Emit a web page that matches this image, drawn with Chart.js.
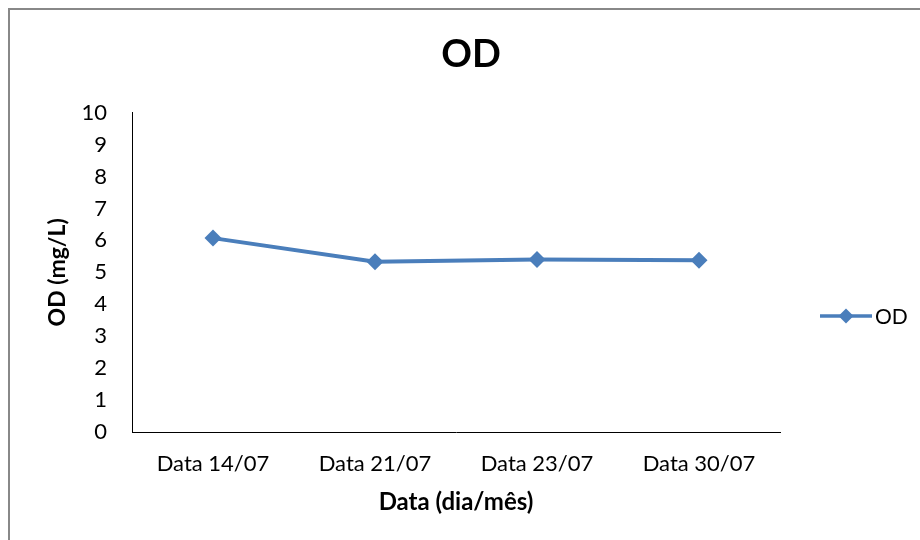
<!DOCTYPE html>
<html>
<head>
<meta charset="utf-8">
<title>OD</title>
<script src="https://cdn.jsdelivr.net/npm/chart.js@4/dist/chart.umd.min.js"></script>
<style>
    html, body { margin: 0; padding: 0; background: #fff; }
    canvas { display: block; }
</style>
</head>
<body>
<canvas id="odChart" width="920" height="540"></canvas>
<script>
// Chart data
const dates = ['Data 14/07', 'Data 21/07', 'Data 23/07', 'Data 30/07'];
const odValues = [6.07, 5.33, 5.40, 5.38];
const yTicks = [0, 1, 2, 3, 4, 5, 6, 7, 8, 9, 10];

const lineColor = '#4A7EBB';
const fontFamily = 'Lato, "Open Sans", sans-serif';

// Gray frame on the left and top edges, like the pasted Excel chart
const framePlugin = {
    id: 'frame',
    beforeDraw(chart) {
        const ctx = chart.ctx;
        ctx.save();
        ctx.strokeStyle = '#888888';
        ctx.lineWidth = 2;
        ctx.beginPath();
        ctx.moveTo(9, chart.height);
        ctx.lineTo(9, 9);
        ctx.lineTo(chart.width, 9);
        ctx.stroke();
        ctx.restore();
    }
};

// Legend on the right: line with a diamond marker, then the label
const sideLegend = {
    id: 'sideLegend',
    afterDraw(chart) {
        const ctx = chart.ctx;
        const area = chart.chartArea;
        const ds = chart.data.datasets[0];
        const x = area.right + 40;
        const y = area.top + (area.bottom - area.top) * 0.637;
        ctx.save();
        ctx.strokeStyle = ds.borderColor;
        ctx.fillStyle = ds.borderColor;
        ctx.lineWidth = 3.5;
        ctx.beginPath();
        ctx.moveTo(x, y);
        ctx.lineTo(x + 52, y);
        ctx.stroke();
        ctx.beginPath();
        ctx.moveTo(x + 26, y - 7.5);
        ctx.lineTo(x + 33.5, y);
        ctx.lineTo(x + 26, y + 7.5);
        ctx.lineTo(x + 18.5, y);
        ctx.closePath();
        ctx.fill();
        ctx.fillStyle = '#000';
        ctx.font = '21px ' + fontFamily;
        ctx.textBaseline = 'middle';
        ctx.textAlign = 'left';
        ctx.fillText(ds.label, x + 55, y + 1);
        ctx.restore();
    }
};

const ctx = document.getElementById('odChart').getContext('2d');
new Chart(ctx, {
    type: 'line',
    data: {
        labels: dates,
        datasets: [{
            label: 'OD',
            data: odValues,
            borderColor: lineColor,
            backgroundColor: lineColor,
            borderWidth: 4,
            tension: 0,
            pointStyle: 'rectRot',
            pointRadius: 8.5,
            pointHoverRadius: 8.5,
            pointBorderWidth: 0,
            pointBackgroundColor: lineColor
        }]
    },
    options: {
        responsive: false,
        animation: false,
        layout: {
            padding: { left: 22, right: 0, top: 0, bottom: 0 }
        },
        plugins: {
            legend: { display: false },
            tooltip: { enabled: false },
            title: {
                display: true,
                text: 'OD',
                color: '#000',
                font: { family: fontFamily, size: 38, weight: 'bold' },
                padding: { top: 32, bottom: 35 }
            }
        },
        scales: {
            x: {
                offset: true,
                grid: { display: false, drawTicks: false },
                border: { display: true, color: '#000', width: 1 },
                ticks: {
                    color: '#000',
                    padding: 19,
                    maxRotation: 0,
                    font: { family: fontFamily, size: 22 }
                },
                title: {
                    display: true,
                    text: 'Data (dia/mês)',
                    color: '#000',
                    font: { family: fontFamily, size: 24, weight: 'bold' },
                    padding: { top: 0, bottom: 23 }
                },
                afterFit(scale) { scale.height = 108; }
            },
            y: {
                min: yTicks[0],
                max: yTicks[yTicks.length - 1],
                grid: { display: false, drawTicks: false },
                border: { display: true, color: '#000', width: 1 },
                afterBuildTicks(scale) {
                    scale.ticks = yTicks.map(v => ({ value: v }));
                },
                ticks: {
                    color: '#000',
                    padding: 25,
                    font: { family: fontFamily, size: 22 }
                },
                title: {
                    display: true,
                    text: 'OD (mg/L)',
                    color: '#000',
                    font: { family: fontFamily, size: 23, weight: 'bold' },
                    padding: { top: 22, bottom: 0 }
                },
                afterFit(scale) { scale.width = 110; }
            },
            // empty axis that keeps the legend column free on the right
            side: {
                type: 'linear',
                position: 'right',
                display: true,
                grid: { display: false, drawTicks: false },
                border: { display: false },
                ticks: { display: false },
                afterFit(scale) { scale.width = 140; }
            }
        }
    },
    plugins: [framePlugin, sideLegend]
});
</script>
</body>
</html>
